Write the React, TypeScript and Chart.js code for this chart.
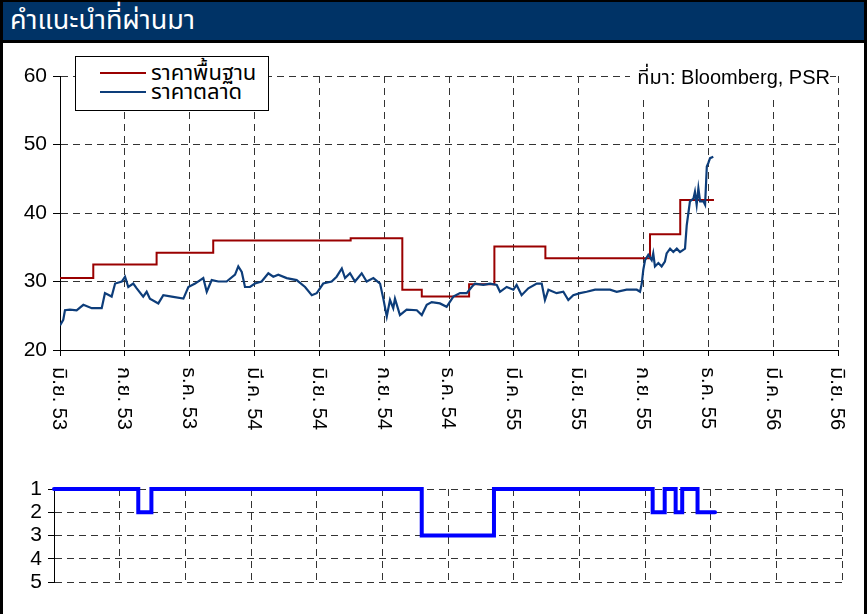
import React, { useEffect, useRef } from 'react';
import { Chart, registerables } from 'chart.js';

Chart.register(...registerables);

// ---------- data ----------
const tickMonths = [0, 3, 6, 9, 12, 15, 18, 21, 24, 27, 30, 33, 36];
const tickLabels = [
  'มิ.ย. 53', 'ก.ย. 53', 'ธ.ค. 53', 'มี.ค. 54', 'มิ.ย. 54', 'ก.ย. 54', 'ธ.ค. 54',
  'มี.ค. 55', 'มิ.ย. 55', 'ก.ย. 55', 'ธ.ค. 55', 'มี.ค. 56', 'มิ.ย. 56',
];
const priceTicks = [20, 30, 40, 50, 60];
const ratingTicks = [1, 2, 3, 4, 5];

// base price (step changes): month since Jun-2010, value
const baseMonths = [0, 1.54, 4.47, 7.09, 13.45, 15.84, 16.74, 18.93, 20.1, 22.46, 27.3, 28.7, 30.26];
const basePrices = [30.5, 32.5, 34.2, 36.0, 36.3, 28.8, 27.8, 29.6, 35.1, 33.4, 36.9, 41.9, 41.9];

// market price
const marketMonths = [
  0, 0.15, 0.23, 0.46, 0.77, 1.08, 1.47, 1.93, 2.08, 2.39,
  2.55, 2.86, 3.01, 3.16, 3.39, 3.55, 3.85, 4.01, 4.16, 4.55,
  4.78, 5.17, 5.71, 5.94, 6.25, 6.63, 6.79, 7.02, 7.33, 7.71,
  8.10, 8.25, 8.41, 8.56, 8.79, 9.02, 9.33, 9.64, 9.87, 10.10,
  10.49, 10.95, 11.34, 11.65, 11.88, 12.18, 12.57, 12.80, 13.04, 13.19,
  13.42, 13.65, 13.96, 14.19, 14.50, 14.81, 14.96, 15.12, 15.27, 15.42,
  15.50, 15.73, 16.04, 16.51, 16.74, 16.97, 17.20, 17.58, 17.89, 18.20,
  18.51, 18.82, 19.05, 19.20, 19.59, 19.90, 20.21, 20.36, 20.67, 20.98,
  21.13, 21.36, 21.67, 22.06, 22.29, 22.44, 22.60, 22.98, 23.29, 23.52,
  23.75, 24.06, 24.37, 24.76, 25.14, 25.45, 25.76, 26.22, 26.69, 26.84,
  26.92, 26.99, 27.07, 27.22, 27.38, 27.45, 27.53, 27.69, 27.84, 27.99,
  28.07, 28.23, 28.38, 28.54, 28.69, 28.92, 29.00, 29.15, 29.31, 29.38,
  29.46, 29.54, 29.62, 29.77, 29.85, 29.93, 30.00, 30.08, 30.23,
];
const marketPrices = [
  23.6, 24.4, 25.8, 25.9, 25.8, 26.6, 26.1, 26.1, 28.3, 27.8,
  29.7, 30.0, 30.7, 29.2, 29.7, 29.0, 27.8, 28.5, 27.5, 26.8,
  28.0, 27.8, 27.5, 29.2, 29.7, 30.5, 28.5, 30.2, 30.0, 30.0,
  31.0, 32.2, 31.4, 29.2, 29.2, 29.7, 30.0, 31.2, 30.7, 31.0,
  30.5, 30.2, 29.2, 28.0, 28.3, 29.7, 30.0, 30.7, 31.9, 30.5,
  31.2, 30.0, 31.2, 30.0, 30.5, 29.7, 27.5, 24.9, 27.3, 26.1,
  27.5, 25.1, 25.9, 25.8, 25.1, 26.6, 27.0, 26.8, 26.3, 27.8,
  28.3, 28.3, 29.2, 29.7, 29.5, 29.7, 29.5, 28.5, 29.2, 28.8,
  29.5, 28.0, 29.0, 29.7, 29.7, 27.3, 28.8, 28.3, 28.5, 27.3,
  28.0, 28.3, 28.5, 28.8, 28.8, 28.8, 28.5, 28.8, 28.8, 28.5,
  29.7, 31.7, 33.1, 33.9, 33.1, 34.1, 32.2, 32.7, 32.2, 32.9,
  34.1, 34.8, 34.3, 34.8, 34.3, 34.8, 38.2, 41.7, 42.1, 43.1,
  41.2, 43.6, 41.7, 41.7, 41.2, 46.8, 47.3, 48.0, 48.2,
];

// recommendation rank (1 = top, 5 = bottom)
const ratingMonths = [0, 3.85, 4.45, 16.8, 20.1, 27.35, 27.9, 28.4, 28.7, 29.4, 30.2];
const ratingValues = [1, 2, 1, 3, 1, 2, 1, 2, 1, 2, 2];

const legendLabels = ['ราคาพื้นฐาน', 'ราคาตลาด'];
const titleText = 'คำแนะนำที่ผ่านมา';
const sourceText = 'ที่มา: Bloomberg, PSR';

// ---------- styles ----------
const FONT = "'Liberation Sans', Arial, 'Noto Sans Thai', Tahoma, sans-serif";
const RED = '#9a0000';
const NAVY = '#0d3d7a';
const GRID = '#333333';
const DASH = [7, 5];

const xLabelPlugin = {
  id: 'rotatedXLabels',
  afterDraw(chart: any) {
    const scale = chart.scales.x;
    const ctx = chart.ctx;
    ctx.save();
    ctx.font = `20px ${FONT}`;
    ctx.fillStyle = '#000';
    ctx.textAlign = 'left';
    ctx.textBaseline = 'middle';
    tickMonths.forEach((m, i) => {
      const x = scale.getPixelForValue(m);
      ctx.save();
      ctx.translate(x - 1, scale.top + 17);
      ctx.rotate(Math.PI / 2);
      ctx.fillText(tickLabels[i], 0, 0);
      ctx.restore();
    });
    ctx.restore();
  },
};

function PriceChart() {
  const ref = useRef<HTMLCanvasElement>(null);
  useEffect(() => {
    const chart = new Chart(ref.current!, {
      type: 'line',
      data: {
        datasets: [
          {
            label: legendLabels[1],
            data: marketMonths.map((m, i) => ({ x: m, y: marketPrices[i] })),
            borderColor: NAVY,
            borderWidth: 2.2,
            pointRadius: 0,
            tension: 0,
          },
          {
            label: legendLabels[0],
            data: baseMonths.map((m, i) => ({ x: m, y: basePrices[i] })),
            borderColor: RED,
            borderWidth: 2,
            pointRadius: 0,
            stepped: 'before',
          },
        ],
      },
      options: {
        responsive: false,
        animation: false,
        devicePixelRatio: 1,
        layout: { padding: { top: 33, right: 23, left: 0, bottom: 0 } },
        plugins: { legend: { display: false }, tooltip: { enabled: false } },
        scales: {
          x: {
            type: 'linear',
            min: 0,
            max: 36,
            afterBuildTicks: (s: any) => {
              s.ticks = tickMonths.map((v) => ({ value: v }));
            },
            afterFit: (s: any) => {
              s.height = 100;
            },
            ticks: { display: false },
            grid: { color: GRID, drawTicks: true, tickLength: 6, tickColor: '#000' },
            border: { display: true, color: '#000', width: 1, dash: DASH },
          },
          y: {
            min: 20,
            max: 60,
            afterBuildTicks: (s: any) => {
              s.ticks = priceTicks.map((v) => ({ value: v }));
            },
            afterFit: (s: any) => {
              s.width = 57;
            },
            ticks: { color: '#000', font: { family: FONT, size: 21 }, padding: 6, autoSkip: false },
            grid: { color: GRID, tickLength: 7, tickColor: '#000' },
            border: { display: true, color: '#000', width: 1, dash: DASH },
          },
        },
      } as any,
      plugins: [xLabelPlugin as any],
    });
    return () => chart.destroy();
  }, []);
  return <canvas ref={ref} width={858} height={407} />;
}

function RatingChart() {
  const ref = useRef<HTMLCanvasElement>(null);
  useEffect(() => {
    const chart = new Chart(ref.current!, {
      type: 'line',
      data: {
        datasets: [
          {
            label: 'rating',
            data: ratingMonths.map((m, i) => ({ x: m, y: ratingValues[i] })),
            borderColor: '#0000ff',
            borderWidth: 4,
            pointRadius: 0,
            stepped: 'before',
            borderCapStyle: 'round',
            clip: false,
          },
        ],
      },
      options: {
        responsive: false,
        animation: false,
        devicePixelRatio: 1,
        layout: { padding: { top: 34, right: 19, left: 0, bottom: 32 } },
        plugins: { legend: { display: false }, tooltip: { enabled: false } },
        scales: {
          x: {
            type: 'linear',
            min: 0,
            max: 36,
            afterBuildTicks: (s: any) => {
              s.ticks = tickMonths.map((v) => ({ value: v }));
            },
            afterFit: (s: any) => {
              s.height = 0;
            },
            ticks: { display: false },
            grid: { color: GRID, drawTicks: false },
            border: { display: false, dash: DASH },
          },
          y: {
            min: 1,
            max: 5,
            reverse: true,
            afterBuildTicks: (s: any) => {
              s.ticks = ratingTicks.map((v) => ({ value: v }));
            },
            afterFit: (s: any) => {
              s.width = 51;
            },
            ticks: { color: '#000', font: { family: FONT, size: 21 }, padding: 6, autoSkip: false },
            grid: { color: GRID, tickLength: 6, tickColor: '#000' },
            border: { display: true, color: '#000', width: 1, dash: DASH },
          },
        },
      } as any,
    });
    return () => chart.destroy();
  }, []);
  return <canvas ref={ref} width={858} height={159} />;
}

export default function App() {
  const thai = "'Noto Sans Thai', Tahoma, 'Liberation Sans', Arial, sans-serif";
  return (
    <div
      style={{
        position: 'fixed',
        left: 0,
        top: 0,
        width: 867,
        height: 614,
        background: '#fff',
        overflow: 'hidden',
        fontFamily: FONT,
      }}
    >
      <div style={{ position: 'absolute', left: 0, top: 0, width: 867, height: 2, background: '#000' }} />
      <div style={{ position: 'absolute', left: 0, top: 0, width: 3, height: 614, background: '#000' }} />
      <div style={{ position: 'absolute', left: 864, top: 0, width: 3, height: 614, background: '#000' }} />
      <div
        style={{
          position: 'absolute',
          left: 3,
          top: 2,
          width: 861,
          height: 38,
          background: '#003366',
          color: '#fff',
          fontFamily: thai,
          fontSize: 27,
          lineHeight: '38px',
          paddingLeft: 7,
          boxSizing: 'border-box',
          whiteSpace: 'nowrap',
        }}
      >
        {titleText}
      </div>
      <div style={{ position: 'absolute', left: 0, top: 40, width: 867, height: 3, background: '#000' }} />

      <div style={{ position: 'absolute', left: 3, top: 43 }}>
        <PriceChart />
      </div>
      <div style={{ position: 'absolute', left: 3, top: 455 }}>
        <RatingChart />
      </div>

      {/* legend */}
      <div
        style={{
          position: 'absolute',
          left: 75,
          top: 56,
          width: 194,
          height: 55,
          boxSizing: 'border-box',
          border: '1px solid #000',
          background: '#fff',
          fontSize: 22,
          color: '#000',
        }}
      >
        {legendLabels.map((t, i) => (
          <div
            key={t}
            style={{ position: 'absolute', left: 0, top: 6 + i * 19, height: 20, display: 'flex', alignItems: 'center' }}
          >
            <div
              style={{
                marginLeft: 24,
                width: 46,
                height: 2,
                background: i === 0 ? RED : NAVY,
              }}
            />
            <span style={{ marginLeft: 5, lineHeight: '20px', whiteSpace: 'nowrap' }}>{t}</span>
          </div>
        ))}
      </div>

      {/* source */}
      <div
        style={{
          position: 'absolute',
          left: 630,
          top: 62,
          width: 200,
          height: 38,
          background: '#fff',
          textAlign: 'right',
          fontSize: 20,
          lineHeight: '24px',
          paddingTop: 3,
          boxSizing: 'border-box',
          whiteSpace: 'nowrap',
          color: '#000',
        }}
      >
        {sourceText}
      </div>
    </div>
  );
}
